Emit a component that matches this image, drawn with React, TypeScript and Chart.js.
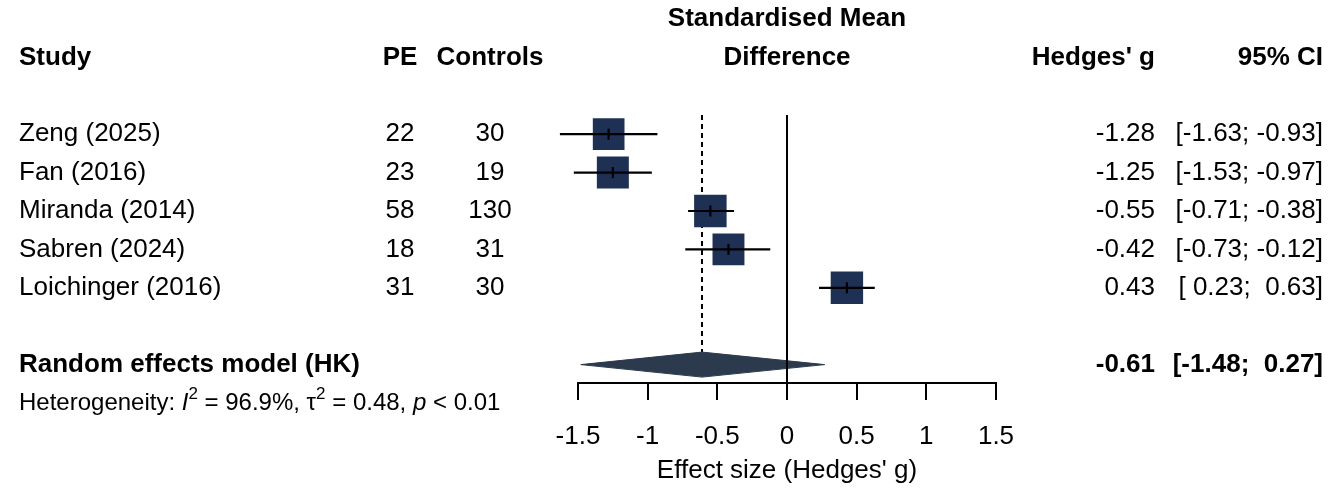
import React, { useEffect, useRef } from "react";
import { Chart, registerables } from "chart.js";

Chart.register(...registerables);

// ---------------- data ----------------
const studies = ["Zeng (2025)", "Fan (2016)", "Miranda (2014)", "Sabren (2024)", "Loichinger (2016)"];
const peN = [22, 23, 58, 18, 31];
const controlsN = [30, 19, 130, 31, 30];
const hedgesG = [-1.28, -1.25, -0.55, -0.42, 0.43];
const ciLower = [-1.63, -1.53, -0.71, -0.73, 0.23];
const ciUpper = [-0.93, -0.97, -0.38, -0.12, 0.63];
const weights = [19.6, 20.0, 20.6, 19.9, 20.5];

const pooledLabel = "Random effects model (HK)";
const pooledG = -0.61;
const pooledLower = -1.48;
const pooledUpper = 0.27;

const hetI2 = "96.9%";
const hetTau2 = "0.48";
const hetP = "< 0.01";

const tickValues = [-1.5, -1, -0.5, 0, 0.5, 1, 1.5];
const tickLabels = ["-1.5", "-1", "-0.5", "0", "0.5", "1", "1.5"];

const headerStudy = "Study";
const headerPE = "PE";
const headerControls = "Controls";
const headerEffect = ["Standardised Mean", "Difference"];
const headerG = "Hedges' g";
const headerCI = "95% CI";
const axisTitle = "Effect size (Hedges' g)";

// ---------------- layout / style ----------------
const W = 1339;
const H = 495;
const FONT = '"Liberation Sans", Arial, Helvetica, sans-serif';
const FS = 26;
const FS_HET = 24;
const ROW_PX = 38.4;
const ROW0_PX = 19;
const AREA_BOTTOM = 383;
const AXIS_HEIGHT = H - AREA_BOTTOM;
const Y_MIN = -ROW0_PX / ROW_PX;
const Y_MAX = (AREA_BOTTOM - ROW0_PX) / ROW_PX;
const FIRST_STUDY_ROW = 3;
const POOLED_ROW = FIRST_STUDY_ROW + studies.length + 1;
const HET_ROW = POOLED_ROW + 1;
const LINE_TOP_ROW = 2.5;
const DIAMOND_HALF = 12.5 / ROW_PX;
const SQUARE_COLOR = "#1E3054";
const DIAMOND_COLOR = "#2C3A4D";
const X_STUDY = 19;
const X_PE = 400;
const X_CTRL = 490;
const X_G = 1155;
const X_CI = 1323;

const studyRow = (i: number) => FIRST_STUDY_ROW + i;
const fmt = (v: number) => (v < 0 ? v.toFixed(2) : " " + v.toFixed(2));
const ciText = (l: number, u: number) => `[${fmt(l)}; ${fmt(u)}]`;

const textPlugin = {
  id: "forestText",
  afterDraw(chart: any) {
    const ctx: CanvasRenderingContext2D = chart.ctx;
    const ys = chart.scales.y;
    const xs = chart.scales.x;
    const rowY = (r: number) => ys.getPixelForValue(r);
    const xMid = (xs.left + xs.right) / 2;
    ctx.save();
    ctx.fillStyle = "#000";
    ctx.textBaseline = "middle";

    const put = (t: string, x: number, y: number, align: CanvasTextAlign, bold = false, size = FS) => {
      ctx.font = `${bold ? "bold " : ""}${size}px ${FONT}`;
      ctx.textAlign = align;
      ctx.fillText(t, x, y);
    };

    // headers
    put(headerEffect[0], xMid, rowY(0), "center", true);
    put(headerEffect[1], xMid, rowY(1), "center", true);
    put(headerStudy, X_STUDY, rowY(1), "left", true);
    put(headerPE, X_PE, rowY(1), "center", true);
    put(headerControls, X_CTRL, rowY(1), "center", true);
    put(headerG, X_G, rowY(1), "right", true);
    put(headerCI, X_CI, rowY(1), "right", true);

    // study rows
    studies.forEach((s, i) => {
      const y = rowY(studyRow(i));
      put(s, X_STUDY, y, "left");
      put(String(peN[i]), X_PE, y, "center");
      put(String(controlsN[i]), X_CTRL, y, "center");
      put(hedgesG[i].toFixed(2), X_G, y, "right");
      put(ciText(ciLower[i], ciUpper[i]), X_CI, y, "right");
    });

    // pooled
    const yp = rowY(POOLED_ROW);
    put(pooledLabel, X_STUDY, yp, "left", true);
    put(pooledG.toFixed(2), X_G, yp, "right", true);
    put(ciText(pooledLower, pooledUpper), X_CI, yp, "right", true);

    // heterogeneity (rich text)
    const yh = rowY(HET_ROW);
    const parts: { t: string; it?: boolean; sup?: boolean }[] = [
      { t: "Heterogeneity: " },
      { t: "I", it: true },
      { t: "2", sup: true },
      { t: ` = ${hetI2}, ` },
      { t: "\u03c4" },
      { t: "2", sup: true },
      { t: ` = ${hetTau2}, ` },
      { t: "p", it: true },
      { t: ` ${hetP}` },
    ];
    let x = X_STUDY;
    ctx.textAlign = "left";
    for (const p of parts) {
      const size = p.sup ? Math.round(FS_HET * 0.7) : FS_HET;
      ctx.font = `${p.it ? "italic " : ""}${size}px ${FONT}`;
      const dy = p.sup ? -FS_HET * 0.38 : 0;
      ctx.fillText(p.t, x, yh + dy);
      x += ctx.measureText(p.t).width;
    }
    ctx.restore();
  },
};

export default function App() {
  const ref = useRef<HTMLCanvasElement | null>(null);

  useEffect(() => {
    if (!ref.current) return;
    const datasets: any[] = [];

    // squares (weights)
    datasets.push({
      data: studies.map((_, i) => ({ x: hedgesG[i], y: studyRow(i) })),
      pointStyle: "rect",
      pointRadius: weights.map((w) => 5.06 * Math.sqrt(w)),
      pointHoverRadius: weights.map((w) => 5.06 * Math.sqrt(w)),
      backgroundColor: SQUARE_COLOR,
      borderColor: SQUARE_COLOR,
      borderWidth: 0,
      showLine: false,
      clip: false,
      order: 5,
    });

    // confidence interval whiskers
    studies.forEach((_, i) => {
      datasets.push({
        data: [
          { x: ciLower[i], y: studyRow(i) },
          { x: ciUpper[i], y: studyRow(i) },
        ],
        showLine: true,
        borderColor: "#000",
        borderWidth: 2.2,
        pointRadius: 0,
        fill: false,
        clip: false,
        order: 3,
      });
    });

    // point-estimate marks
    datasets.push({
      data: studies.map((_, i) => ({ x: hedgesG[i], y: studyRow(i) })),
      pointStyle: "line",
      rotation: 90,
      pointRadius: 5.5,
      borderColor: "#000",
      borderWidth: 2.2,
      showLine: false,
      clip: false,
      order: 2,
    });

    // pooled diamond
    datasets.push({
      data: [
        { x: pooledLower, y: POOLED_ROW },
        { x: pooledG, y: POOLED_ROW - DIAMOND_HALF },
        { x: pooledUpper, y: POOLED_ROW },
        { x: pooledG, y: POOLED_ROW + DIAMOND_HALF },
        { x: pooledLower, y: POOLED_ROW },
      ],
      showLine: true,
      fill: "shape",
      backgroundColor: DIAMOND_COLOR,
      borderColor: DIAMOND_COLOR,
      borderWidth: 1,
      tension: 0,
      pointRadius: 0,
      clip: false,
      order: 6,
    });

    // line of no effect
    datasets.push({
      data: [
        { x: 0, y: LINE_TOP_ROW },
        { x: 0, y: Y_MAX },
      ],
      showLine: true,
      borderColor: "#000",
      borderWidth: 2,
      pointRadius: 0,
      clip: false,
      order: 1,
    });

    // pooled estimate dashed line
    datasets.push({
      data: [
        { x: pooledG, y: LINE_TOP_ROW },
        { x: pooledG, y: POOLED_ROW - DIAMOND_HALF },
      ],
      showLine: true,
      borderColor: "#000",
      borderWidth: 2,
      borderDash: [5, 4],
      pointRadius: 0,
      clip: false,
      order: 7,
    });

    const chart = new Chart(ref.current, {
      type: "scatter",
      data: { datasets },
      plugins: [textPlugin],
      options: {
        animation: false,
        responsive: true,
        maintainAspectRatio: false,
        devicePixelRatio: 1,
        events: [],
        layout: { autoPadding: false, padding: { left: 578, right: W - 996, top: 0, bottom: 0 } },
        plugins: {
          legend: { display: false },
          tooltip: { enabled: false },
          title: { display: false },
        },
        scales: {
          x: {
            type: "linear",
            position: "bottom",
            min: -1.5,
            max: 1.5,
            afterBuildTicks: (scale: any) => {
              scale.ticks = tickValues.map((v) => ({ value: v }));
            },
            afterFit: (scale: any) => {
              scale.height = AXIS_HEIGHT;
            },
            ticks: {
              autoSkip: false,
              maxRotation: 0,
              padding: 21,
              color: "#000",
              font: { family: FONT, size: FS },
              callback: (_v: any, i: number) => tickLabels[i],
            },
            grid: {
              display: true,
              drawOnChartArea: false,
              drawTicks: true,
              tickLength: 17,
              color: "#000",
              lineWidth: 2,
            },
            border: { display: true, color: "#000", width: 2 },
            title: {
              display: true,
              text: axisTitle,
              color: "#000",
              font: { family: FONT, size: FS },
              padding: { top: 7.8, bottom: 8.4 },
            },
          },
          y: {
            type: "linear",
            display: false,
            reverse: true,
            min: Y_MIN,
            max: Y_MAX,
          },
        },
      } as any,
    });
    return () => chart.destroy();
  }, []);

  return (
    <div style={{ position: "fixed", left: 0, top: 0, width: W, height: H, background: "#fff" }}>
      <canvas ref={ref} />
    </div>
  );
}
